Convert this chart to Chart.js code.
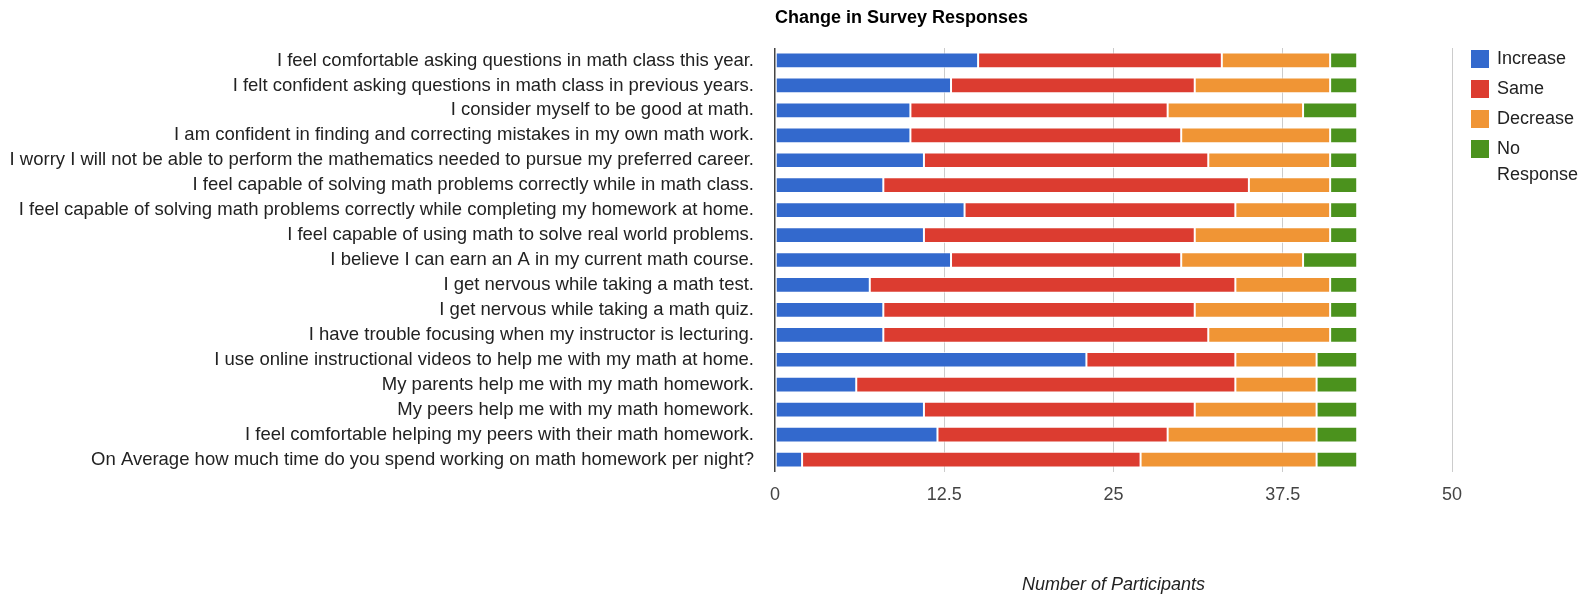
<!DOCTYPE html>
<html>
<head>
<meta charset="utf-8">
<script src="https://cdn.jsdelivr.net/npm/chart.js@4.4.1/dist/chart.umd.min.js"></script>
<style>
    html, body { margin: 0; padding: 0; background: #fff; }
    #wrap { width: 1586px; height: 598px; position: relative; }
</style>
</head>
<body>
<div id="wrap"><canvas id="chartSurvey"></canvas></div>
<script>
// survey statements (top to bottom)
const questions = [
    'I feel comfortable asking questions in math class this year.',
    'I felt confident asking questions in math class in previous years.',
    'I consider myself to be good at math.',
    'I am confident in finding and correcting mistakes in my own math work.',
    'I worry I will not be able to perform the mathematics needed to pursue my preferred career.',
    'I feel capable of solving math problems correctly while in math class.',
    'I feel capable of solving math problems correctly while completing my homework at home.',
    'I feel capable of using math to solve real world problems.',
    'I believe I can earn an A in my current math course.',
    'I get nervous while taking a math test.',
    'I get nervous while taking a math quiz.',
    'I have trouble focusing when my instructor is lecturing.',
    'I use online instructional videos to help me with my math at home.',
    'My parents help me with my math homework.',
    'My peers help me with my math homework.',
    'I feel comfortable helping my peers with their math homework.',
    'On Average how much time do you spend working on math homework per night?'
];

const increase   = [15, 13, 10, 10, 11, 8, 14, 11, 13, 7, 8, 8, 23, 6, 11, 12, 2];
const same       = [18, 18, 19, 20, 21, 27, 20, 20, 17, 27, 23, 24, 11, 28, 20, 17, 25];
const decrease   = [8, 10, 10, 11, 9, 6, 7, 10, 9, 7, 10, 9, 6, 6, 9, 11, 13];
const noResponse = [2, 2, 4, 2, 2, 2, 2, 2, 4, 2, 2, 2, 3, 3, 3, 3, 3];

const xTicks = [0, 12.5, 25, 37.5, 50];

const chartTitle = 'Change in Survey Responses';
const xTitle = 'Number of Participants';

const fontName = '"Liberation Sans", Arial, sans-serif';

// judul + legenda digambar manual (label "No Response" perlu dua baris)
const titleLegendPlugin = {
    id: 'titleLegend',
    afterDraw(chart) {
        const ctx = chart.ctx;
        const area = chart.chartArea;
        ctx.save();
        ctx.fillStyle = '#000';
        ctx.font = 'bold 18px ' + fontName;
        ctx.textAlign = 'left';
        ctx.textBaseline = 'alphabetic';
        ctx.fillText(chartTitle, area.left, 23);

        ctx.font = '18px ' + fontName;
        ctx.textBaseline = 'middle';
        let y = 50;
        chart.data.datasets.forEach(ds => {
            ctx.fillStyle = ds.backgroundColor;
            ctx.fillRect(1471, y, 18, 18);
            ctx.fillStyle = '#222';
            const lines = ds.label.split(' ');
            if (ds.label === 'No Response') {
                ctx.fillText(lines[0], 1497, y + 9);
                ctx.fillText(lines[1], 1497, y + 35);
            } else {
                ctx.fillText(ds.label, 1497, y + 9);
            }
            y += 30;
        });
        ctx.restore();
    }
};

function makeDataset(label, data, color) {
    return {
        label: label,
        data: data,
        backgroundColor: color,
        borderColor: 'rgba(255,255,255,0.7)',
        borderWidth: 1,
        borderSkipped: false,
        barPercentage: 0.63,
        categoryPercentage: 1
    };
}

const ctx = document.getElementById('chartSurvey').getContext('2d');
const myChart = new Chart(ctx, {
    type: 'bar',
    data: {
        labels: questions,
        datasets: [
            makeDataset('Increase', increase, '#3369cd'),
            makeDataset('Same', same, '#dc3c30'),
            makeDataset('Decrease', decrease, '#f09535'),
            makeDataset('No Response', noResponse, '#4b921d')
        ]
    },
    options: {
        indexAxis: 'y',
        responsive: true,
        maintainAspectRatio: false,
        animation: false,
        layout: {
            padding: { top: 48, right: 134, bottom: 0, left: 0 }
        },
        plugins: {
            legend: { display: false },
            title: { display: false },
            tooltip: { enabled: false }
        },
        scales: {
            x: {
                stacked: true,
                min: 0,
                max: 50,
                afterBuildTicks: (scale) => {
                    scale.ticks = xTicks.map(v => ({ value: v }));
                },
                afterFit: (scale) => { scale.height = 126; },
                ticks: {
                    color: '#444',
                    font: { family: fontName, size: 18 },
                    padding: 12,
                    callback: (value) => String(value)
                },
                grid: {
                    drawTicks: false,
                    color: (c) => (c.tick && c.tick.value === 0) ? '#444' : '#cccccc',
                    lineWidth: (c) => (c.tick && c.tick.value === 0) ? 1.5 : 1
                },
                border: { display: false },
                title: {
                    display: true,
                    text: xTitle,
                    color: '#222',
                    font: { family: fontName, size: 18, style: 'italic' },
                    padding: { top: 60, bottom: 2 }
                }
            },
            y: {
                stacked: true,
                afterFit: (scale) => { scale.width = 775; },
                ticks: {
                    color: '#222',
                    font: { family: fontName, size: 18.5 },
                    padding: 21,
                    autoSkip: false
                },
                grid: { display: false, drawTicks: false },
                border: { display: false }
            }
        }
    },
    plugins: [titleLegendPlugin]
});
</script>
</body>
</html>
